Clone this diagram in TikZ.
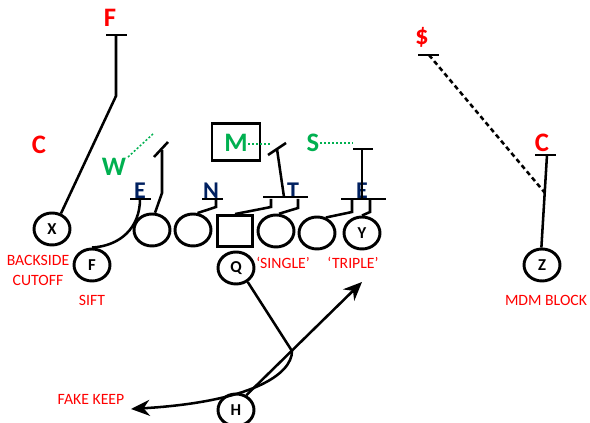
\documentclass[tikz,border=0pt]{standalone}
\usepackage{fontspec}
\setmainfont{Carlito}
\usetikzlibrary{arrows.meta,shapes.geometric}
\definecolor{playgreen}{HTML}{00B050}
\definecolor{playblue}{HTML}{002060}
\tikzset{
  player/.style={draw, ellipse, line width=2.2pt, minimum width=27pt, minimum height=24pt, inner sep=0pt, font=\bfseries\fontsize{12.5}{12.5}\selectfont},
  route/.style={line width=1.9pt},
  callred/.style={text=red, font=\fontsize{11.8}{12}\selectfont, inner sep=0pt},
  redman/.style={text=red, font=\bfseries\fontsize{20}{20}\selectfont, inner sep=0pt},
  greenman/.style={text=playgreen, font=\bfseries\fontsize{20}{20}\selectfont, inner sep=0pt},
  blueman/.style={text=playblue, font=\bfseries\fontsize{18}{18}\selectfont, inner sep=0pt},
  look/.style={playgreen, dash pattern=on 1.5pt off 1.5pt, line width=1.1pt}
}
\begin{document}
\begin{tikzpicture}[x=0.75pt, y=-0.75pt, >={Stealth[length=14pt, width=12pt]}]
\useasboundingbox (0,0) rectangle (590,423);

% players
\node[player] (X) at (52,229) {X};
\node[player] (Fb) at (92,265) {F};
\node[player] (LT) at (152,230) {};
\node[player] (LG) at (193,230) {};
\node[draw, line width=2.4pt, minimum width=26pt, minimum height=23pt, inner sep=0pt] (Ctr) at (235,231) {};
\node[player] (RG) at (276,231) {};
\node[player] (RT) at (317,233) {};
\node[player] (Y) at (362,233) {Y};
\node[player] (Q) at (236,268) {Q};
\node[player] (H) at (236,410) {H};
\node[player] (Z) at (542,265) {Z};
\node[draw, line width=1.9pt, minimum width=36pt, minimum height=28pt, inner sep=0pt] (Mbox) at (236,142) {};

% defenders
\node[redman] (lF) at (110,18) {F};
\node[redman] (lC) at (39,145) {C};
\node[redman] (lD) at (422,37) {\$};
\node[redman] (lC2) at (542,143) {C};
\node[greenman] (lW) at (114,167) {W};
\node[greenman] (lM) at (236,143) {M};
\node[greenman] (lS) at (313,143) {S};
\node[blueman] (lE) at (140,191) {E};
\node[blueman] (lN) at (211,191) {N};
\node[blueman] (lT) at (293,191) {T};
\node[blueman] (lE2) at (362,191) {E};

% calls
\node[callred] (back) at (38,260) {BACKSIDE};
\node[callred] (cut) at (38,280) {CUTOFF};
\node[callred] (sift) at (92,300) {SIFT};
\node[callred] (sing) at (283,263) {‘SINGLE’};
\node[callred] (trip) at (353,263) {‘TRIPLE’};
\node[callred] (keep) at (91,399) {FAKE KEEP};
\node[callred] (mdm) at (546,300) {MDM BLOCK};

% route ends
\coordinate (tF) at (116,35);
\coordinate (tE) at (140,199);
\coordinate (tN) at (216,199);
\coordinate (tLT) at (162,150);
\coordinate (tGa) at (271,199);
\coordinate (tGb) at (298,199);
\coordinate (tMb) at (277,149);
\coordinate (tSb) at (362,149);
\coordinate (tTa) at (352,199);
\coordinate (tTb) at (370,199);
\coordinate (tD) at (429,55);
\coordinate (tC) at (547,155);
\coordinate (mesh) at (292,351);
\coordinate (split) at (545,193);
\coordinate (tArrow) at (362,282);
\coordinate (tKeep) at (131,409);

% blocks
\draw[route] (X.60)--(116,96)--(tF);
\draw[route] (106,35)--(127,35);
\draw[route] (Fb.90) .. controls (120,246) and (140,228) .. (tE);
\draw[route] (130,199)--(151,199);
\draw[route] (LT.80)--(162,193)--(tLT);
\draw[route] (154,157)--(168,142);
\draw[route] (LG.75)--(216,207)--(tN);
\draw[route] (202,199)--(223,199);
\draw[route] (Ctr.north)--(271,207)--(tGa);
\draw[route] (RG.80)--(298,208)--(tGb);
\draw[route] (263,197)--(308,197);
\draw[route] (284,197)--(tMb);
\draw[route] (268,155)--(286,143);
\draw[route] (RT.60)--(352,212)--(tTa);
\draw[route] (Y.90)--(370,212)--(tTb);
\draw[route] (341,199)--(386,199);
\draw[route] (362,199)--(tSb);
\draw[route] (353,149)--(373,149);
\draw[route] (Z.92)--(tC);
\draw[route] (535,155)--(556,155);
\draw[route] (418,55)--(439,55);
\draw[route, dash pattern=on 3.5pt off 2.5pt] (tD)--(split);

% backfield
\draw[route] (Q.-50)--(mesh);
\draw[route, ->] (H.55)--(tArrow);
\draw[route, ->] (mesh) .. controls (292,375) and (250,402) .. (tKeep);

% reads
\draw[look] (128,157)--(153,134);
\draw[look] (248,144)--(270,144);
\draw[look] (320,143)--(353,143);

\end{tikzpicture}
\end{document}
